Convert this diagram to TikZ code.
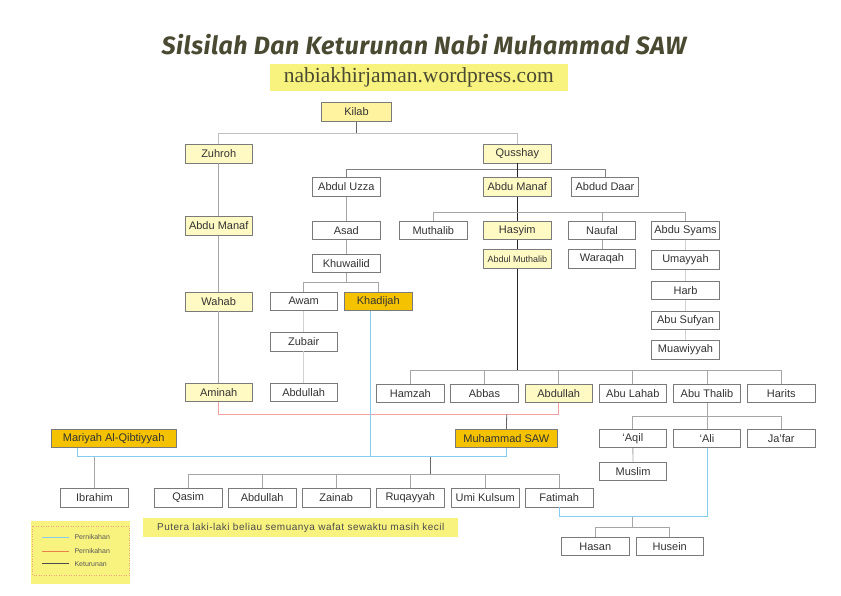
\documentclass[tikz,border=0pt]{standalone}
\usepackage{fontspec}
\setmainfont{Liberation Sans}
\newfontfamily\titlefont{Fira Sans}[LetterSpace=2]
\newfontfamily\webfont{Liberation Serif}
\newfontfamily\notefont{Liberation Sans}[LetterSpace=5]
\definecolor{pale}{HTML}{FFF9C4}
\definecolor{paler}{HTML}{FFF3A0}
\definecolor{gold}{HTML}{F5C200}
\definecolor{banner}{HTML}{F8F27E}
\definecolor{olive}{HTML}{4A4932}
\definecolor{edge}{HTML}{7A7A7A}
\definecolor{ink}{HTML}{333333}
\definecolor{wedblue}{HTML}{86CCEE}
\definecolor{wedred}{HTML}{F2A0A0}
\definecolor{legred}{HTML}{E8804A}
\begin{document}
\begin{tikzpicture}[x=1pt,y=-1pt,font=\fontsize{11}{13}\selectfont,
  box/.style={draw=edge,fill=white,text=ink,minimum width=67.5pt,minimum height=18.5pt,inner sep=0pt,line width=0.8pt},
  yel/.style={box,fill=pale},
  gold/.style={box,fill=gold},
  desc/.style={draw=black!35,line width=0.8pt},
  faint/.style={draw=black!18,line width=1.2pt},
  stem/.style={draw=black!60,line width=0.8pt},
  main/.style={draw=black!85,line width=0.9pt},
  wed/.style={draw=wedblue,line width=0.9pt},
  wedr/.style={draw=wedred,line width=0.9pt}]
\useasboundingbox (0,0) rectangle (841,595);
% title
\node[anchor=base,text=olive,font=\titlefont\bfseries\itshape\fontsize{25}{28}\selectfont] (title) at (424,54) {Silsilah Dan Keturunan Nabi Muhammad SAW};
\node[fill=banner,text=olive,minimum width=298pt,minimum height=26.8pt,inner sep=0pt,font=\webfont\fontsize{21.5}{24}\selectfont] (site) at (418.8,77.8) {nabiakhirjaman.wordpress.com};
% people
\node[yel,fill=paler,minimum width=70pt,minimum height=19pt] (kilab) at (356.5,111.7) {Kilab};
\foreach \x/\y/\s/\n/\t in {218.7/153.8/yel/zuhroh/Zuhroh,517.3/153.8/yel/qusshay/Qusshay,
  346.3/187/box/abduluzza/Abdul Uzza,517.3/187/yel/abdumanaf/Abdu Manaf,605/187/box/abduddaar/Abdud Daar,
  218.7/226/yel/abdumanafz/Abdu Manaf,346.3/230.5/box/asad/Asad,433.3/230.5/box/muthalib/Muthalib,
  517.3/230.5/yel/hasyim/Hasyim,602/230.5/box/naufal/Naufal,685.5/230.5/box/abdusyams/Abdu Syams,
  602/259/box/waraqah/Waraqah,346.3/263.3/box/khuwailid/Khuwailid,685.5/260/box/umayyah/Umayyah,
  685.5/290.5/box/harb/Harb,218.7/301.7/yel/wahab/Wahab,303.7/301.2/box/awam/Awam,
  378.3/301.2/gold/khadijah/Khadijah,303.7/341.7/box/zubair/Zubair,685.5/320.5/box/abusufyan/Abu Sufyan,
  685.5/350/box/muawiyyah/Muawiyyah,218.7/392.5/yel/aminah/Aminah,303.7/392.5/box/abdullahz/Abdullah,
  410.3/393.3/box/hamzah/Hamzah,484.5/393.3/box/abbas/Abbas,558.7/393.3/yel/abdullah/Abdullah,
  632.8/393.3/box/abulahab/Abu Lahab,707/393.3/box/abuthalib/Abu Thalib,781.2/393.3/box/harits/Harits,
  632.8/438.5/box/aqil/‘Aqil,707/438.5/box/ali/‘Ali,781.2/438.5/box/jafar/Ja’far,633/471.2/box/muslim/Muslim,
  94.5/497.8/box/ibrahim/Ibrahim,188.2/497.8/box/qasim/Qasim,262.2/497.8/box/abdullahk/Abdullah,
  336.2/497.8/box/zainab/Zainab,410.3/497.8/box/ruqayyah/Ruqayyah,485.2/497.8/box/umikulsum/Umi Kulsum,
  559.2/497.8/box/fatimah/Fatimah,595.3/546.3/box/hasan/Hasan,669.7/546.3/box/husein/Husein}
  \node[\s] (\n) at (\x,\y) {\t};
\node[yel,font=\fontsize{9}{11}\selectfont] (abdulmuthalib) at (517.3,259) {Abdul Muthalib};
\node[gold,minimum width=125pt] (mariyah) at (113.7,438.5) {Mariyah Al-Qibtiyyah};
\node[gold,minimum width=102.7pt] (muhammad) at (506.3,438.5) {Muhammad SAW};
% bars
\coordinate (b1) at (356.5,133.5);
\coordinate (b2) at (517.3,169);
\coordinate (b3) at (517.3,212.3);
\coordinate (b4) at (346.3,282.3);
\coordinate (b5) at (517.3,370.3);
\coordinate (b6) at (707,416.7);
\coordinate (b7) at (506.7,414.3);
\coordinate (b8) at (430.7,456.5);
\coordinate (b9) at (430.7,474.5);
\coordinate (b10) at (632.7,516.7);
\coordinate (b11) at (632.7,527.3);
% keturunan
\draw[stem] (kilab) -- (b1);
\foreach \c in {zuhroh,qusshay} \draw[desc,draw=black!25] (\c.north) |- (b1);
\draw[desc] (zuhroh) -- (abdumanafz) -- (wahab) -- (aminah);
\foreach \c in {abduluzza,abduddaar} \draw[desc,draw=black!50] (\c.north) |- (b2);
\draw[main] (qusshay) -- (abdumanaf) -- (hasyim) -- (abdulmuthalib) -- (b5);
\foreach \c in {muthalib,naufal,abdusyams} \draw[desc] (\c.north) |- (b3);
\draw[desc] (abduluzza) -- (asad) -- (khuwailid) -- (b4);
\foreach \c in {awam,khadijah} \draw[desc] (\c.north) |- (b4);
\draw[faint] (awam) -- (zubair) -- (abdullahz);
\draw[desc] (naufal) -- (waraqah);
\draw[faint] (abdusyams) -- (umayyah) -- (harb) -- (abusufyan) -- (muawiyyah);
\foreach \c in {hamzah,abbas,abdullah,abulahab,abuthalib,harits} \draw[desc] (\c.north) |- (b5);
\draw[desc] (abuthalib) -- (b6);
\foreach \c in {aqil,ali,jafar} \draw[desc] (\c.north) |- (b6);
\draw[desc] (aqil) -- (muslim);
% pernikahan
\draw[wedr] (aminah.south) |- (b7) -| (abdullah.south);
\draw[stem] (b7) -- (muhammad);
\draw[wed] ([xshift=-36pt]mariyah.south) |- (b8) -| ([xshift=0.4pt]muhammad.south);
\draw[wed] ([xshift=-7.8pt]khadijah.south) |- (b8);
\draw[desc] (ibrahim.north) -- (ibrahim.north |- b8);
\draw[stem] (b8) -- (b9);
\foreach \c in {qasim,abdullahk,zainab,ruqayyah,umikulsum,fatimah} \draw[desc] (\c.north) |- (b9);
\draw[wed] (ali.south) |- (b10) -| (fatimah.south);
\draw[desc] (b10) -- (b11);
\foreach \c in {hasan,husein} \draw[desc] (\c.north) |- (b11);
% note
\node[fill=banner,text=black!70,minimum width=315pt,minimum height=19pt,inner sep=0pt,font=\notefont\fontsize{10}{12}\selectfont] (note) at (300.8,527.8) {Putera laki-laki beliau semuanya wafat sewaktu masih kecil};
% legend
\fill[banner] (31,521) rectangle (130,584.3);
\draw[legred!70,dotted,line width=0.5pt] (32.5,526) rectangle (129,575);
\foreach \y/\n/\t in {537.3/leg1/Pernikahan,551.3/leg2/Pernikahan,563.7/leg3/Keturunan}
  \node[anchor=west,text=black!65,inner sep=0pt,font=\fontsize{7}{9}\selectfont] (\n) at (74.3,\y) {\t};
\draw[wedblue,line width=0.8pt] ([xshift=-5pt]leg1.west) -- ++(-27.6,0);
\draw[legred,line width=0.8pt] ([xshift=-5pt]leg2.west) -- ++(-27.6,0);
\draw[black!70,line width=0.8pt] ([xshift=-5pt]leg3.west) -- ++(-27.6,0);
\end{tikzpicture}
\end{document}
